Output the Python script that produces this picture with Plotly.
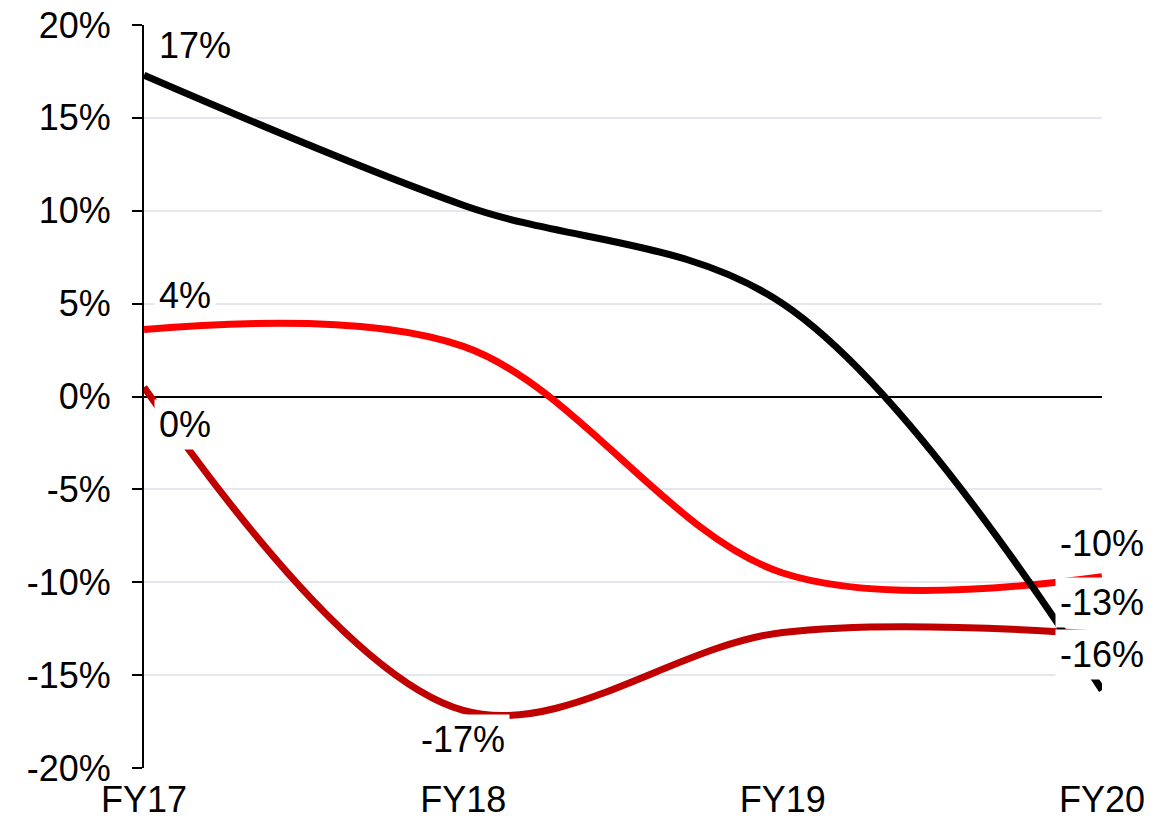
import plotly.graph_objects as go

categories = ["FY17", "FY18", "FY19", "FY20"]
black_vals = [17.3, 10.3, 5.0, -15.8]
red_vals = [3.6, 2.7, -9.5, -9.7]
darkred_vals = [0.5, -16.9, -12.7, -12.8]

y_ticks = [-20, -15, -10, -5, 0, 5, 10, 15, 20]
y_tick_text = [f"{t}%" for t in y_ticks]

FONT = "Liberation Sans, Arial, sans-serif"

series = [
    # name, values, color, label indices with (xanchor, xshift, yshift)
    ("darkred", darkred_vals, "#c00000", {0: ("left", 10, -37), 1: ("center", 0, -29), 3: ("center", 0, 32)}),
    ("red", red_vals, "#ff0000", {0: ("left", 10, 34), 3: ("center", 0, 33)}),
    ("black", black_vals, "#000000", {0: ("left", 10, 30), 3: ("center", 0, 35)}),
]

fig = go.Figure()
annotations = []
for name, vals, color, labels in series:
    fig.add_trace(go.Scatter(
        x=list(range(len(categories))), y=vals, mode="lines",
        line=dict(color=color, width=7, shape="spline", smoothing=1.0),
        name=name, showlegend=False, hoverinfo="skip",
    ))
    for idx, (xa, xs, ys) in labels.items():
        annotations.append(dict(
            x=idx, y=vals[idx], xref="x", yref="y",
            text=f"{round(vals[idx]):.0f}%", showarrow=False,
            xanchor=xa, yanchor="middle", xshift=xs, yshift=ys,
            font=dict(family=FONT, size=36, color="#000000"),
            bgcolor="#ffffff", borderpad=4,
        ))

fig.update_layout(
    template="none",
    width=1174, height=823,
    margin=dict(l=144, r=72, t=25, b=55),
    paper_bgcolor="#ffffff", plot_bgcolor="#ffffff",
    font=dict(family=FONT, size=36, color="#000000"),
    annotations=annotations,
    showlegend=False,
)
fig.update_xaxes(
    range=[0, 3], tickmode="array", tickvals=list(range(len(categories))),
    ticktext=categories, showgrid=False, zeroline=False, showline=False,
    ticks="", tickfont=dict(family=FONT, size=36, color="#000000"),
    ticklabelstandoff=7, automargin=False,
)
fig.update_yaxes(
    range=[-20, 20], tickmode="array", tickvals=y_ticks, ticktext=y_tick_text,
    showgrid=True, gridcolor="#e4e7f0", gridwidth=1.5,
    zeroline=True, zerolinecolor="#000000", zerolinewidth=2,
    showline=True, linecolor="#000000", linewidth=2,
    ticks="outside", ticklen=10, tickwidth=2, tickcolor="#000000",
    tickfont=dict(family=FONT, size=36, color="#000000"),
    ticklabelstandoff=14, automargin=False,
)

fig.write_html("out.html")
